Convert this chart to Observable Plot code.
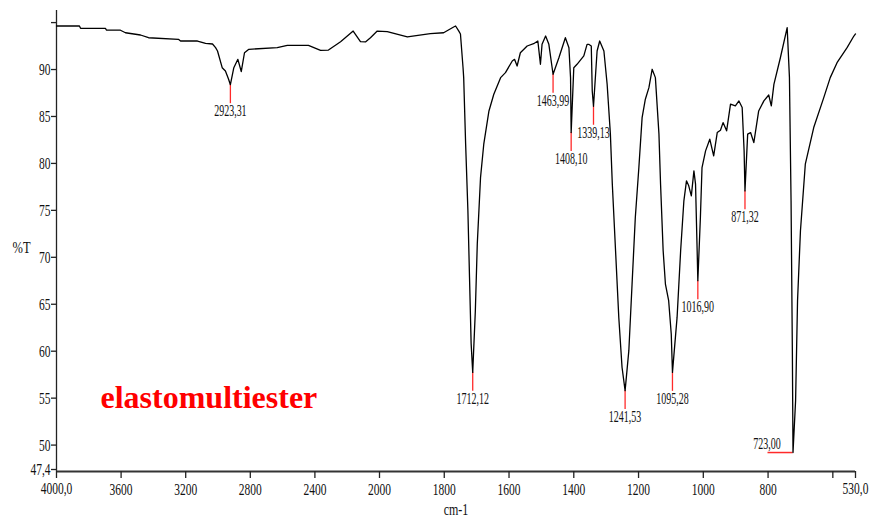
<!DOCTYPE html>
<html>
<head>
<meta charset="utf-8">
<script src="https://cdn.jsdelivr.net/npm/d3@7"></script>
<script src="https://cdn.jsdelivr.net/npm/@observablehq/plot@0.6"></script>
<style>
  html, body { margin: 0; padding: 0; background: #fff; }
  #chart { width: 870px; height: 519px; }
</style>
</head>
<body>
<div id="chart"></div>
<script>
// ---- Data ----
const waveNumber = [
  4000, 3858, 3851, 3697, 3690, 3604, 3573, 3480, 3430, 3245, 3232, 3127, 3077, 3034, 3015, 3003,
  2974, 2954, 2935, 2923.31, 2902, 2877, 2856, 2836, 2809, 2633, 2571, 2440, 2365, 2316, 2241, 2163,
  2118, 2087, 2056, 2014, 1976, 1914, 1843, 1802, 1771, 1765, 1755, 1750, 1742, 1740, 1734, 1727,
  1722, 1717, 1712.12, 1704, 1698, 1693, 1688, 1678, 1662, 1647, 1626, 1611, 1590, 1583, 1575, 1565,
  1544, 1524, 1511, 1503, 1498, 1487, 1477, 1463.99, 1446, 1426, 1415, 1410, 1408.10, 1400, 1390, 1369,
  1359, 1354, 1346, 1343, 1339.13, 1328, 1320, 1307, 1297, 1287, 1281, 1271, 1261, 1251, 1241.53, 1230,
  1220, 1210, 1199, 1189, 1179, 1168, 1158, 1148, 1137, 1132, 1124, 1117, 1107, 1099, 1095.28, 1081,
  1070, 1060, 1052, 1045, 1037, 1029, 1024, 1019, 1016.90, 1009, 1004, 993, 980, 968, 957, 947,
  939, 928, 916, 901, 890, 880, 874, 871.32, 863, 854, 844, 829, 813, 798, 790, 782,
  762, 741, 734, 729, 725, 723, 715, 709, 700, 685, 659, 628, 608, 587, 556, 535, 530
];
const transmittance = [
  94.85, 94.85, 94.6, 94.6, 94.4, 94.4, 94.13, 93.89, 93.6, 93.43, 93.25, 93.25, 93.0, 92.93, 92.54, 92.19,
  90.41, 90.06, 89.21, 88.6, 90.41, 91.3, 90.0, 92.0, 92.37, 92.54, 92.79, 92.79, 92.26, 92.29, 93.18, 94.31,
  93.18, 93.15, 93.6, 94.31, 94.24, 93.68, 94.03, 94.13, 94.74, 94.85, 94.31, 94.0, 90.41, 89.35, 82.29, 75.17,
  68.07, 61.02, 57.96, 64.53, 71.66, 75.17, 78.71, 82.26, 85.8, 87.58, 89.35, 89.88, 91.12, 91.3, 90.59, 92.0,
  92.72, 92.96, 93.25, 90.77, 92.9, 93.78, 92.9, 89.71, 91.47, 93.6, 92.54, 89.35, 83.5, 90.41, 90.77, 91.66,
  92.9, 92.9, 92.72, 87.93, 86.3, 92.19, 93.25, 92.19, 88.64, 83.36, 78.0, 70.91, 63.81, 58.5, 56.02, 60.27,
  67.37, 74.45, 79.77, 85.09, 87.05, 88.28, 90.24, 89.35, 83.33, 78.0, 70.91, 67.37, 65.59, 62.05, 57.96, 63.81,
  70.91, 76.23, 78.36, 77.83, 76.76, 79.42, 78.0, 70.91, 67.72, 74.45, 79.77, 81.55, 82.79, 81.02, 83.5, 83.75,
  84.56, 83.68, 86.52, 86.34, 86.87, 86.16, 81.55, 77.29, 83.33, 83.5, 82.43, 85.8, 86.87, 87.5, 86.34, 88.64,
  91.47, 94.67, 89.35, 76.23, 60.27, 49.42, 54.95, 65.59, 73.04, 80.13, 84.03, 87.22, 89.35, 90.94, 92.54, 93.78, 94.0
];

const peakWn = [2923.31, 1712.12, 1463.99, 1408.10, 1339.13, 1241.53, 1095.28, 1016.90, 871.32, 723.00];
const peakT = [88.6, 57.96, 89.71, 83.5, 86.3, 56.02, 57.96, 67.72, 77.29, 49.42];
const peakLabel = ["2923,31", "1712,12", "1463,99", "1408,10", "1339,13", "1241,53", "1095,28", "1016,90", "871,32", "723,00"];

const xTicks = [4000, 3600, 3200, 2800, 2400, 2000, 1800, 1600, 1400, 1200, 1000, 800, 600, 530];
const xTickLabels = ["4000,0", "3600", "3200", "2800", "2400", "2000", "1800", "1600", "1400", "1200", "1000", "800", "", "530,0"];
const yTicks = [47.4, 50, 55, 60, 65, 70, 75, 80, 85, 90, 95];
const yTickLabels = ["47,4", "50", "55", "60", "65", "70", "75", "80", "85", "90", ""];

const sampleName = "elastomultiester";
const xTitle = "cm-1";
const yTitle = "%T";

// ---- Build ----
const spectrum = waveNumber.map((w, i) => ({w, t: transmittance[i]}));
const peaks = peakWn.map((w, i) => ({w, t: peakT[i], label: peakLabel[i]}));
const xLabelOf = new Map(xTicks.map((v, i) => [v, xTickLabels[i]]));
const yLabelOf = new Map(yTicks.map((v, i) => [v, yTickLabels[i]]));

const W = 870, H = 519;
const mL = 56, mR = 15, mT = 10, mB = 48;
const yDomain = [47.4, 96.5];
const pxPerT = (H - mT - mB) / (yDomain[1] - yDomain[0]);
// expanded (2x) scale below 2000 cm-1, as on the instrument printout
const plotW = W - mL - mR;
const breakFrac = 323 / 799;
const pxPerWnLow = (plotW * (1 - breakFrac)) / (2000 - 530);

const labelPeaks = peaks.filter(d => d.w > 800);
const sidePeaks = peaks.filter(d => d.w <= 800);

const chart = Plot.plot({
  width: W,
  height: H,
  marginLeft: mL,
  marginRight: mR,
  marginTop: mT,
  marginBottom: mB,
  style: {fontFamily: "'Liberation Serif', 'Times New Roman', serif", fontSize: "12px", background: "#fff", color: "#111"},
  x: {type: "linear", domain: [4000, 2000, 530], range: [mL, mL + plotW * breakFrac, W - mR], axis: null},
  y: {domain: yDomain, axis: null},
  marks: [
    // frame axes
    Plot.ruleX([4000], {y1: yDomain[0], y2: yDomain[1], stroke: "#222", strokeWidth: 1.3}),
    Plot.ruleY([yDomain[0]], {x1: 4000, x2: 530, stroke: "#333", strokeWidth: 1.8}),
    Plot.axisX(xTicks, {anchor: "bottom", label: null, tickSize: 7, tickPadding: 6, tickFormat: d => xLabelOf.get(d), stroke: "#222", strokeWidth: 1.3, fontSize: 11.5, fill: "#111"}),
    Plot.axisY(yTicks, {anchor: "left", label: null, tickSize: 5, tickPadding: 1, tickFormat: d => yLabelOf.get(d), stroke: "#222", strokeWidth: 1.3, fontSize: 11.5, fill: "#111", dy: -2}),
    // peak leaders
    Plot.ruleX(labelPeaks, {x: "w", y1: "t", y2: d => d.t - 19 / pxPerT, stroke: "#ff2a2a", strokeWidth: 1.3}),
    Plot.ruleY(sidePeaks, {y: "t", x1: "w", x2: d => d.w + 25 / pxPerWnLow, stroke: "#ff2a2a", strokeWidth: 1.5}),
    // spectrum
    Plot.line(spectrum, {x: "w", y: "t", stroke: "#000", strokeWidth: 1.3}),
    // peak labels
    Plot.text(labelPeaks, {x: "w", y: "t", text: "label", dy: 26, fontSize: 10, fill: "#111"}),
    Plot.text(sidePeaks, {x: "w", y: "t", text: "label", dx: -26, dy: -9, fontSize: 10, fill: "#111"}),
    // axis titles
    Plot.text([xTitle], {frameAnchor: "bottom", textAnchor: "middle", lineAnchor: "middle", dy: 38, fontSize: 12, fill: "#111"}),
    Plot.text([yTitle], {frameAnchor: "left", textAnchor: "middle", lineAnchor: "middle", dx: -35, dy: 7, fontSize: 12.5, fill: "#111"}),
    // sample name
    Plot.text([sampleName], {frameAnchor: "bottom-left", textAnchor: "start", lineAnchor: "bottom", dx: 44, dy: -64, fontSize: 32, fontWeight: "bold", fill: "#ff0000"})
  ]
});

document.getElementById("chart").appendChild(chart);

// the printout's labels use a tall, narrow face: stretch them vertically
chart.querySelectorAll("text").forEach(t => {
  const txt = t.textContent;
  if (txt === sampleName) return;
  const fs = parseFloat(getComputedStyle(t).fontSize);
  const s = (txt === xTitle || txt === yTitle) ? 1.35 : fs <= 10.5 ? 1.65 : 1.5;
  const b = t.getBBox();
  const cy = b.y + b.height / 2;
  const tr = t.getAttribute("transform") || "";
  t.setAttribute("transform", `${tr} translate(0,${cy}) scale(1,${s}) translate(0,${-cy})`);
});
</script>
</body>
</html>
